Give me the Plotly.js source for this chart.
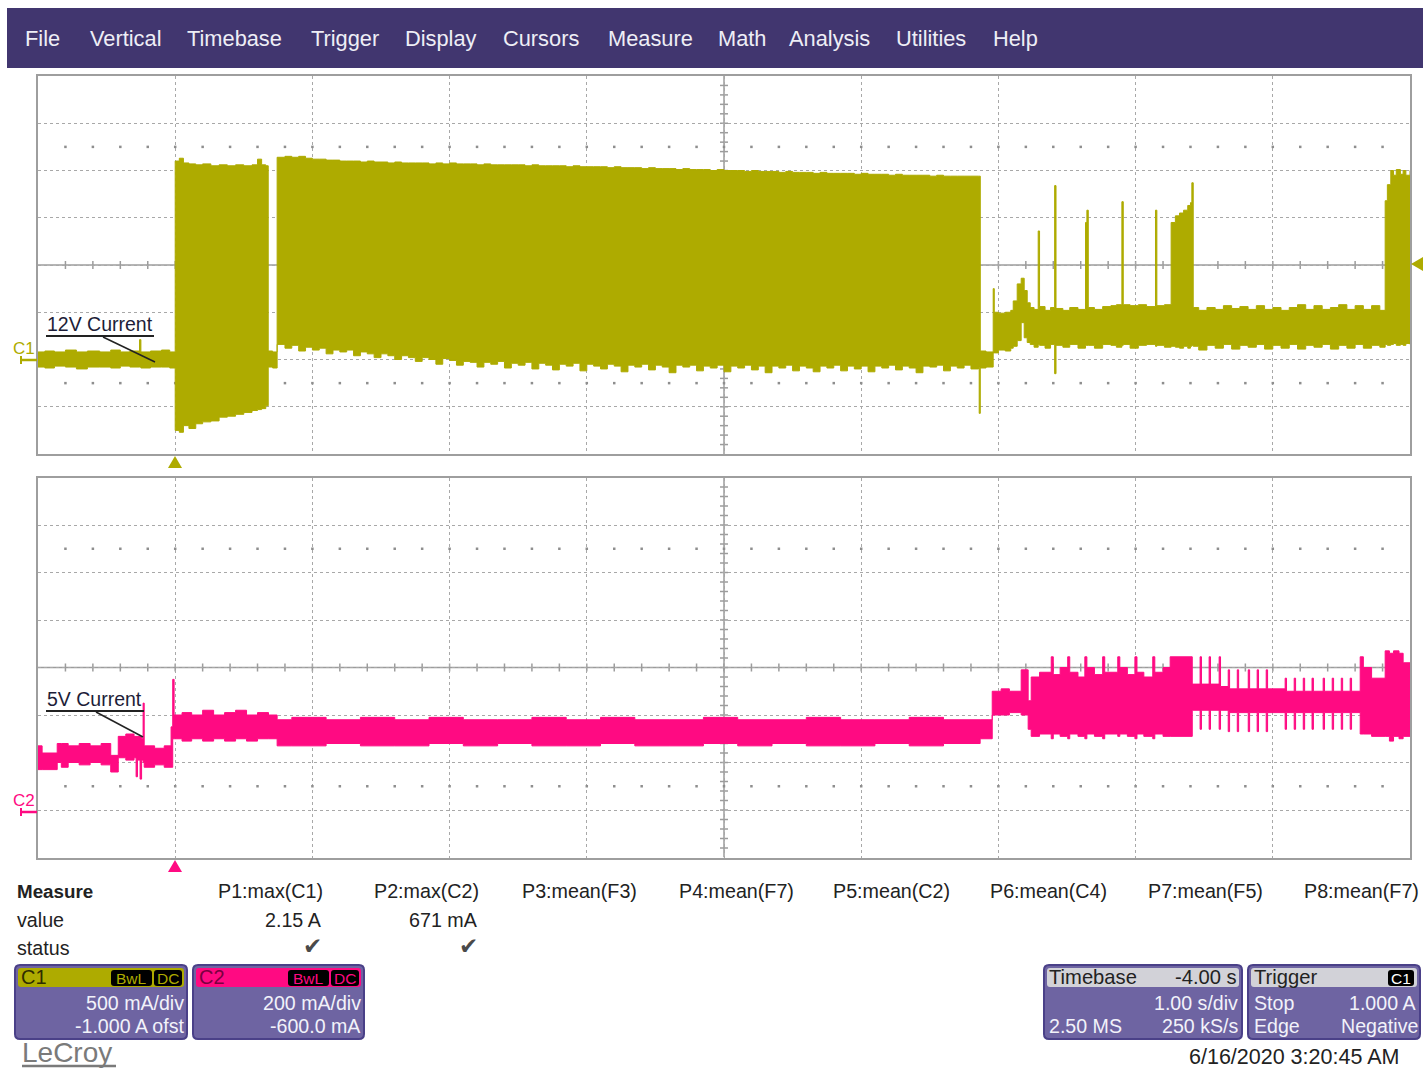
<!DOCTYPE html>
<html>
<head>
<meta charset="utf-8">
<script src="https://cdn.plot.ly/plotly-3.0.1.min.js"></script>
<style>
html,body{margin:0;padding:0;background:#ffffff;overflow:hidden;}
#chart{width:1423px;height:1070px;}
</style>
</head>
<body>
<div id="chart"></div>
<script>
// ================= DATA =================
// Time in seconds (trigger at 0, 1.00 s/div), current in amps.
// Each channel is drawn as an envelope: max and min of the dense acquisition.
const c1Time = [
 -1.00,-0.95,-0.88,-0.80,-0.72,-0.64,-0.55,-0.47,-0.40,-0.33,-0.26,-0.25,-0.18,-0.10,-0.04,
 0.00,0.03,0.06,0.10,0.15,0.20,0.26,0.32,0.38,0.44,0.50,0.56,0.60,0.63,0.66,
 0.678,0.71,
 0.743,0.80,0.85,0.90,0.95,1.00,1.05,1.10,1.15,1.20,1.25,1.30,1.35,1.40,1.45,1.50,1.55,1.60,1.65,1.70,1.75,1.80,1.85,1.90,1.95,
 2.00,2.05,2.10,2.15,2.20,2.25,2.30,2.35,2.40,2.45,2.50,2.55,2.60,2.65,2.70,2.75,2.80,2.85,2.90,2.95,
 3.00,3.05,3.10,3.15,3.20,3.25,3.30,3.35,3.40,3.45,3.50,3.55,3.60,3.65,3.70,3.75,3.80,3.85,3.90,3.95,
 4.00,4.05,4.10,4.15,4.20,4.25,4.30,4.35,4.40,4.45,4.50,4.55,4.60,4.65,4.70,4.75,4.80,4.85,4.90,4.95,
 5.00,5.05,5.10,5.15,5.20,5.25,5.30,5.35,5.40,5.45,5.50,5.55,5.60,5.65,5.70,5.75,5.80,5.855,5.86,
 5.868,5.91,5.962,5.97,6.00,6.05,6.09,6.108,6.137,6.166,6.188,6.210,
 6.232,6.26,6.29,6.30,6.34,6.38,6.41,6.42,6.47,6.52,6.58,6.635,6.645,6.655,6.70,6.76,6.82,6.86,6.90,6.91,6.96,7.02,7.08,7.145,7.155,7.21,
 7.259,7.29,7.32,7.35,7.38,7.40,7.41,7.42,
 7.46,7.52,7.58,7.64,7.70,7.76,7.82,7.88,7.94,8.00,8.06,8.12,8.18,8.24,8.30,8.36,8.42,8.48,8.54,8.60,8.66,8.72,8.78,
 8.819,8.835,8.86,8.88,8.90,8.93,8.95,8.97,9.00
];
const c1Max = [
 0.08,0.09,0.08,0.10,0.08,0.09,0.08,0.10,0.08,0.09,0.21,0.08,0.09,0.10,0.08,
 2.10,2.13,2.08,2.07,2.06,2.07,2.05,2.06,2.05,2.06,2.05,2.06,2.12,2.06,2.05,
 0.09,0.08,
 2.14,2.15,2.14,2.15,2.13,2.12,2.12,2.11,2.11,2.10,2.10,2.10,2.09,2.10,2.09,2.09,2.08,2.09,2.08,2.08,2.08,2.08,2.07,2.08,2.07,
 2.08,2.07,2.07,2.07,2.06,2.07,2.06,2.06,2.06,2.06,2.06,2.05,2.06,2.05,2.05,2.05,2.05,2.04,2.05,2.04,
 2.04,2.04,2.04,2.03,2.04,2.03,2.03,2.03,2.02,2.03,2.02,2.02,2.02,2.01,2.02,2.01,2.01,2.01,2.00,2.01,
 2.00,2.00,2.00,1.99,2.00,1.99,1.99,1.99,1.98,1.99,1.98,1.98,1.98,1.97,1.98,1.97,1.97,1.97,1.97,1.96,
 1.97,1.96,1.96,1.96,1.95,1.96,1.95,1.95,1.95,1.95,1.94,1.95,1.94,1.94,1.94,1.94,1.94,1.94,1.94,
 0.09,0.08,0.75,0.50,0.49,0.50,0.52,0.62,0.80,0.86,0.73,0.60,
 0.55,0.53,1.36,0.56,0.52,0.55,1.84,0.54,0.52,0.55,0.53,1.45,1.58,0.55,0.53,0.56,0.57,0.58,1.67,0.58,0.57,0.58,0.56,1.58,0.57,0.58,
 1.45,1.52,1.55,1.58,1.63,1.66,1.87,0.55,
 0.52,0.55,0.53,0.57,0.54,0.56,0.53,0.57,0.53,0.55,0.52,0.55,0.58,0.53,0.57,0.53,0.55,0.58,0.53,0.57,0.53,0.57,0.52,
 1.68,1.85,2.00,1.95,2.01,1.96,2.00,1.95,2.00
];
const c1Min = [
 -0.08,-0.09,-0.07,-0.08,-0.10,-0.08,-0.08,-0.09,-0.07,-0.08,-0.08,-0.09,-0.08,-0.08,-0.09,
 -0.75,-0.77,-0.70,-0.73,-0.68,-0.66,-0.65,-0.61,-0.60,-0.58,-0.56,-0.54,-0.53,-0.52,-0.49,
 -0.08,-0.09,
 0.16,0.12,0.15,0.09,0.13,0.10,0.12,0.06,0.10,0.08,0.10,0.04,0.08,0.06,0.02,0.06,0.04,0.00,0.04,0.02,-0.02,0.02,0.00,-0.05,0.01,
 -0.01,-0.06,-0.02,-0.03,-0.08,-0.03,-0.05,-0.02,-0.09,-0.04,-0.06,-0.03,-0.10,-0.04,-0.06,-0.11,-0.05,-0.07,-0.04,-0.12,
 -0.05,-0.07,-0.10,-0.05,-0.07,-0.13,-0.06,-0.08,-0.05,-0.11,-0.06,-0.08,-0.14,-0.06,-0.08,-0.06,-0.12,-0.07,-0.09,-0.06,
 -0.13,-0.07,-0.09,-0.06,-0.11,-0.07,-0.14,-0.07,-0.09,-0.06,-0.12,-0.07,-0.09,-0.13,-0.07,-0.09,-0.06,-0.12,-0.07,-0.10,
 -0.07,-0.13,-0.07,-0.09,-0.06,-0.11,-0.07,-0.09,-0.14,-0.07,-0.08,-0.06,-0.12,-0.07,-0.09,-0.06,-0.10,-0.08,-0.57,
 -0.09,-0.08,0.07,0.07,0.10,0.09,0.12,0.14,0.20,0.39,0.23,0.18,
 0.16,0.13,0.16,0.15,0.12,0.16,-0.15,0.15,0.13,0.16,0.12,0.15,0.15,0.15,0.12,0.16,0.15,0.13,0.15,0.16,0.12,0.15,0.16,0.14,0.15,0.13,
 0.14,0.13,0.12,0.14,0.12,0.14,0.15,0.14,
 0.10,0.15,0.12,0.16,0.11,0.15,0.13,0.16,0.11,0.15,0.12,0.16,0.11,0.15,0.13,0.16,0.11,0.15,0.12,0.16,0.12,0.15,0.13,
 0.16,0.15,0.16,0.17,0.15,0.16,0.15,0.17,0.16
];

const c2Time = [
 -1.00,-0.97,-0.86,-0.83,-0.78,-0.70,-0.62,-0.54,-0.47,-0.415,-0.36,-0.30,-0.285,-0.275,-0.256,-0.245,-0.234,-0.226,-0.15,-0.08,-0.03,-0.018,-0.008,
 0.05,0.12,0.20,0.28,0.36,0.44,0.52,0.60,0.68,
 0.743,0.85,1.10,1.35,1.60,1.85,2.10,2.35,2.60,2.85,3.10,3.35,3.60,3.85,4.10,4.35,4.60,4.85,5.10,5.35,5.60,
 5.867,5.955,6.02,6.08,6.166,6.217,6.239,6.30,6.385,6.40,6.45,6.505,6.52,6.58,6.63,6.645,6.70,6.76,6.775,6.87,6.885,6.94,6.995,7.01,7.06,7.125,7.14,7.20,7.252,
 7.413,7.47,7.48,7.536,7.546,7.609,7.619,7.675,7.685,7.741,7.751,7.821,7.831,7.886,7.896,7.952,7.962,
 8.09,8.10,8.156,8.166,8.222,8.232,8.286,8.296,8.367,8.377,8.433,8.443,8.499,8.509,8.564,8.574,
 8.637,8.66,8.72,8.819,8.85,8.88,8.92,8.95,9.00
];
const c2Max = [
 0.27,0.24,0.28,0.28,0.27,0.28,0.27,0.28,0.23,0.31,0.32,0.31,0.31,0.31,0.31,0.30,0.45,0.27,0.26,0.27,0.35,0.55,0.40,
 0.41,0.40,0.42,0.40,0.41,0.42,0.40,0.41,0.40,
 0.38,0.39,0.38,0.39,0.38,0.39,0.38,0.38,0.39,0.38,0.39,0.38,0.38,0.39,0.38,0.38,0.39,0.38,0.38,0.39,0.38,
 0.38,0.50,0.51,0.50,0.59,0.46,0.56,0.58,0.645,0.57,0.60,0.645,0.58,0.56,0.645,0.60,0.57,0.645,0.58,0.645,0.60,0.57,0.645,0.58,0.56,0.645,0.58,0.60,0.645,
 0.53,0.645,0.53,0.645,0.53,0.645,0.52,0.59,0.51,0.59,0.51,0.59,0.51,0.59,0.51,0.59,0.51,
 0.555,0.50,0.555,0.50,0.555,0.50,0.555,0.50,0.555,0.50,0.555,0.50,0.555,0.50,0.555,0.50,
 0.645,0.60,0.555,0.67,0.66,0.67,0.66,0.62,0.62
];
const c2Min = [
 0.17,0.17,0.20,0.18,0.20,0.19,0.20,0.19,0.16,0.22,0.21,0.22,0.14,0.21,0.13,0.21,0.20,0.18,0.19,0.18,0.18,0.30,0.30,
 0.29,0.30,0.29,0.30,0.29,0.30,0.29,0.30,0.30,
 0.27,0.27,0.28,0.27,0.27,0.28,0.27,0.28,0.27,0.27,0.28,0.27,0.27,0.28,0.27,0.28,0.27,0.27,0.28,0.27,0.28,
 0.30,0.40,0.40,0.41,0.40,0.34,0.31,0.32,0.30,0.32,0.31,0.30,0.32,0.31,0.30,0.32,0.31,0.30,0.32,0.31,0.32,0.31,0.30,0.32,0.31,0.30,0.32,0.31,0.31,
 0.42,0.34,0.42,0.34,0.42,0.34,0.42,0.33,0.41,0.33,0.41,0.33,0.41,0.33,0.41,0.33,0.41,
 0.34,0.41,0.34,0.41,0.34,0.41,0.34,0.41,0.34,0.41,0.34,0.41,0.34,0.41,0.34,0.41,
 0.32,0.32,0.31,0.31,0.29,0.31,0.30,0.31,0.31
];

const menuItems = ['File','Vertical','Timebase','Trigger','Display','Cursors','Measure','Math','Analysis','Utilities','Help'];
const traceLabels = ['12V Current','5V Current'];
const measureRowLabels = ['Measure','value','status'];
const measureParams = ['P1:max(C1)','P2:max(C2)','P3:mean(F3)','P4:mean(F7)','P5:mean(C2)','P6:mean(C4)','P7:mean(F5)','P8:mean(F7)'];
const measureValues = ['2.15 A','671 mA'];
const measureStatus = ['\u2714','\u2714'];
const c1Settings = ['500 mA/div','-1.000 A ofst'];
const c2Settings = ['200 mA/div','-600.0 mA'];
const timebaseSettings = ['-4.00 s','1.00 s/div','2.50 MS','250 kS/s'];
const triggerSettings = ['Stop','1.000 A','Edge','Negative'];
const stampText = '6/16/2020 3:20:45 AM';

// sanity check
[[c1Time,c1Max,c1Min],[c2Time,c2Max,c2Min]].forEach((a,i)=>{
  if(a[0].length!==a[1].length||a[0].length!==a[2].length)
    throw new Error('length mismatch ch'+(i+1)+': '+a.map(v=>v.length).join(','));
});

// ================= LAYOUT =================
const W=1423,H=1070;
const fx=x=>x/W, fy=y=>1-y/H;
const FONT='Liberation Sans, Arial, Helvetica, sans-serif';
const OLIVE='#aeab00', PINK='#ff0a82';
const GRID='#a8a8a8';

const shapes=[], annotations=[];
function pline(x0,y0,x1,y1,color,width,dash){
  shapes.push({type:'line',xref:'paper',yref:'paper',x0:fx(x0),y0:fy(y0),x1:fx(x1),y1:fy(y1),
    line:{color:color,width:width,dash:dash||'solid'},layer:'above'});
}
function prect(x0,y0,x1,y1,fill,lc,lw){
  shapes.push({type:'rect',xref:'paper',yref:'paper',x0:fx(x0),y0:fy(y1),x1:fx(x1),y1:fy(y0),
    fillcolor:fill,line:{color:lc||fill,width:lw||0},layer:'above'});
}
function pround(x0,y0,x1,y1,r,fill,lc,lw){
  const P=(x,y)=>fx(x).toFixed(6)+','+fy(y).toFixed(6);
  const d='M'+P(x0+r,y0)+' L'+P(x1-r,y0)+' Q'+P(x1,y0)+' '+P(x1,y0+r)+' L'+P(x1,y1-r)+' Q'+P(x1,y1)+' '+P(x1-r,y1)+
    ' L'+P(x0+r,y1)+' Q'+P(x0,y1)+' '+P(x0,y1-r)+' L'+P(x0,y0+r)+' Q'+P(x0,y0)+' '+P(x0+r,y0)+' Z';
  shapes.push({type:'path',xref:'paper',yref:'paper',path:d,fillcolor:fill,line:{color:lc||fill,width:lw||0},layer:'above'});
}
function ppoly(pts,fill){
  const d='M'+pts.map(p=>fx(p[0]).toFixed(6)+','+fy(p[1]).toFixed(6)).join(' L')+' Z';
  shapes.push({type:'path',xref:'paper',yref:'paper',path:d,fillcolor:fill,line:{color:fill,width:0},layer:'above'});
}
function txt(x,y,text,o){
  o=o||{};
  annotations.push({xref:'paper',yref:'paper',x:fx(x),y:fy(y),text:text,showarrow:false,
    xanchor:o.anchor||'left',yanchor:'middle',borderpad:0,
    font:{family:o.family||FONT,size:o.size||19,color:o.color||'#222222'}});
}

// --- menu bar ---
prect(7,8,1423,68,'#41366f');
const menuX=[25,90,187,311,405,503,608,718,789,896,993];
menuItems.forEach((m,i)=>txt(menuX[i]-1,39,m,{size:21.8,color:'#eeeef6'}));

// --- grid decorations (center cross, ticks, dotted rows) ---
const panels=[
  {xr:'x',yr:'y',ymin:-1,ymax:3,div:0.5},
  {xr:'x2',yr:'y2',ymin:-0.2,ymax:1.4,div:0.2}
];
const dotX=[],dotY=[],dotX2=[],dotY2=[];
panels.forEach((p,pi)=>{
  const cy=(p.ymin+p.ymax)/2;
  const hl=4/47.3*p.div;
  const hx=4/137.2;
  shapes.push({type:'line',xref:p.xr,yref:p.yr,x0:-1,x1:9,y0:cy,y1:cy,line:{color:'#9c9c9c',width:1.5},layer:'below'});
  shapes.push({type:'line',xref:p.xr,yref:p.yr,x0:4,x1:4,y0:p.ymin,y1:p.ymax,line:{color:'#9c9c9c',width:1.5},layer:'below'});
  for(let i=1;i<50;i++){
    const x=-1+i*0.2;
    shapes.push({type:'line',xref:p.xr,yref:p.yr,x0:x,x1:x,y0:cy-hl,y1:cy+hl,line:{color:'#9c9c9c',width:1.5},layer:'below'});
    [cy+2.5*p.div,cy-2.5*p.div].forEach(yy=>{
      if(pi===0){dotX.push(x);dotY.push(yy);} else {dotX2.push(x);dotY2.push(yy);}
    });
  }
  for(let j=1;j<40;j++){
    const y=p.ymin+j*p.div/5;
    shapes.push({type:'line',xref:p.xr,yref:p.yr,x0:4-hx,x1:4+hx,y0:y,y1:y,line:{color:'#9c9c9c',width:1.5},layer:'below'});
  }
});

// --- channel ground markers, trigger markers ---
txt(12,348,'C1',{size:17,color:OLIVE});
pline(20,360,37,360,OLIVE,2.5); pline(21,356,21,364,OLIVE,2);
txt(12,800,'C2',{size:17,color:PINK});
pline(20,812,37,812,PINK,2.5); pline(21,808,21,816,PINK,2);
ppoly([[168,468],[182,468],[175,456]],OLIVE);
ppoly([[168,872],[182,872],[175,860]],PINK);
ppoly([[1411,264],[1423,257],[1423,271]],OLIVE);

// --- trace labels with leaders ---
txt(46,324,traceLabels[0],{size:19.5,color:'#1d1d38'});
pline(46,336,154,336,'#222',2);
pline(103,337,155,362,'#222',1.5);
txt(46,699,traceLabels[1],{size:19.5,color:'#1d1d38'});
pline(46,711,144,711,'#222',2);
pline(96,712,143,737,'#222',1.5);

// --- measure table ---
const MS=19.7;
txt(16,891,'<b>'+measureRowLabels[0]+'</b>',{size:18.8});
txt(16,920,measureRowLabels[1],{size:MS});
txt(16,948,measureRowLabels[2],{size:MS});
const paramRight=[324,480,638,795,951,1108,1264,1420];
measureParams.forEach((m,i)=>txt(paramRight[i],891,m,{anchor:'right',size:MS}));
measureValues.forEach((v,i)=>txt(paramRight[i]-1,920,v,{anchor:'right',size:MS}));
measureStatus.forEach((v,i)=>txt(paramRight[i]-1,946,v,{anchor:'right',size:23,color:'#4a4a4a',family:'DejaVu Sans'}));

// --- channel descriptor boxes ---
const BS=19.6;
function chanBox(x0,x1,label,hdrColor,lblColor,settings){
  pround(x0,965,x1,1039,5,'#6e64a2','#4a4088',2);
  pround(x0+3,968,x1-3,987,3,hdrColor);
  pround(x1-76,970,x1-35,986,3,'#000000');
  pround(x1-33,970,x1-5,986,3,'#000000');
  txt(x0+5,977,label,{size:20,color:lblColor});
  txt(x1-55.5,978,'BwL',{anchor:'center',size:15.5,color:hdrColor});
  txt(x1-19,978,'DC',{anchor:'center',size:15.5,color:hdrColor});
  txt(x1-2,1003,settings[0],{anchor:'right',size:BS,color:'#f2f2fa'});
  txt(x1-2,1026,settings[1],{anchor:'right',size:BS,color:'#f2f2fa'});
}
chanBox(15,187,'C1',OLIVE,'#2e2d00',c1Settings);
chanBox(193,364,'C2',PINK,'#7a0040',c2Settings);

// timebase box
pround(1044,965,1242,1039,5,'#6e64a2','#4a4088',2);
pround(1047,968,1239,987,3,'#d2d2d8');
txt(1048,977,'Timebase',{size:20.2,color:'#222'});
txt(1238,977,timebaseSettings[0],{anchor:'right',size:20.2,color:'#222'});
txt(1239,1003,timebaseSettings[1],{anchor:'right',size:BS,color:'#f2f2fa'});
txt(1048,1026,timebaseSettings[2],{size:BS,color:'#f2f2fa'});
txt(1239,1026,timebaseSettings[3],{anchor:'right',size:BS,color:'#f2f2fa'});
// trigger box
pround(1248,965,1420,1039,5,'#6e64a2','#4a4088',2);
pround(1251,968,1417,987,3,'#d2d2d8');
pround(1388,970,1414,986,3,'#000000');
txt(1253,977,'Trigger',{size:20.2,color:'#222'});
txt(1401,978,'C1',{anchor:'center',size:15.5,color:'#ffffff'});
txt(1253,1003,triggerSettings[0],{size:BS,color:'#f2f2fa'});
txt(1417,1003,triggerSettings[1],{anchor:'right',size:BS,color:'#f2f2fa'});
txt(1253,1026,triggerSettings[2],{size:BS,color:'#f2f2fa'});
txt(1419,1026,triggerSettings[3],{anchor:'right',size:BS,color:'#f2f2fa'});

// logo and timestamp
txt(21,1052,'LeCroy',{size:28,color:'#7a7a7a'});
pline(22,1066,116,1066,'#7a7a7a',2.5);
txt(1400,1057,stampText,{anchor:'right',size:21.5,color:'#222'});

// ================= TRACES =================
function env(t,hi,lo,color,xa,ya){
  return [
    {x:t,y:lo,type:'scatter',mode:'lines',line:{color:color,width:1,shape:'hv'},xaxis:xa,yaxis:ya,hoverinfo:'skip',showlegend:false},
    {x:t,y:hi,type:'scatter',mode:'lines',line:{color:color,width:1,shape:'hv'},fill:'tonexty',fillcolor:color,xaxis:xa,yaxis:ya,hoverinfo:'skip',showlegend:false}
  ];
}
const data=[
  {x:dotX,y:dotY,type:'scatter',mode:'markers',marker:{color:'#8e8e8e',size:2.5,symbol:'square'},xaxis:'x',yaxis:'y',hoverinfo:'skip',showlegend:false},
  {x:dotX2,y:dotY2,type:'scatter',mode:'markers',marker:{color:'#8e8e8e',size:2.5,symbol:'square'},xaxis:'x2',yaxis:'y2',hoverinfo:'skip',showlegend:false},
  ...env(c1Time,c1Max,c1Min,OLIVE,'x','y'),
  ...env(c2Time,c2Max,c2Min,PINK,'x2','y2')
];

function xax(anchor){
  return {domain:[fx(38),fx(1410)],range:[-1,9],anchor:anchor,showticklabels:false,ticks:'',
    showgrid:true,dtick:1,tick0:0,gridcolor:GRID,griddash:'dot',gridwidth:1,zeroline:false,
    showline:true,mirror:true,linecolor:'#9e9e9e',linewidth:2,fixedrange:true};
}
function yax(anchor,dom,rng,dt){
  return {domain:dom,range:rng,anchor:anchor,showticklabels:false,ticks:'',
    showgrid:true,dtick:dt,tick0:rng[0],gridcolor:GRID,griddash:'dot',gridwidth:1,zeroline:false,
    showline:true,mirror:true,linecolor:'#9e9e9e',linewidth:2,fixedrange:true};
}
const layout={
  width:W,height:H,margin:{l:0,r:0,t:0,b:0},
  paper_bgcolor:'#ffffff',plot_bgcolor:'#ffffff',
  showlegend:false,hovermode:false,
  font:{family:FONT},
  xaxis:xax('y'),
  yaxis:yax('x',[fy(454),fy(76)],[-1,3],0.5),
  xaxis2:xax('y2'),
  yaxis2:yax('x2',[fy(857.5),fy(477.5)],[-0.2,1.4],0.2),
  shapes:shapes,
  annotations:annotations
};
Plotly.newPlot('chart',data,layout,{staticPlot:true,displayModeBar:false});
</script>
</body>
</html>
